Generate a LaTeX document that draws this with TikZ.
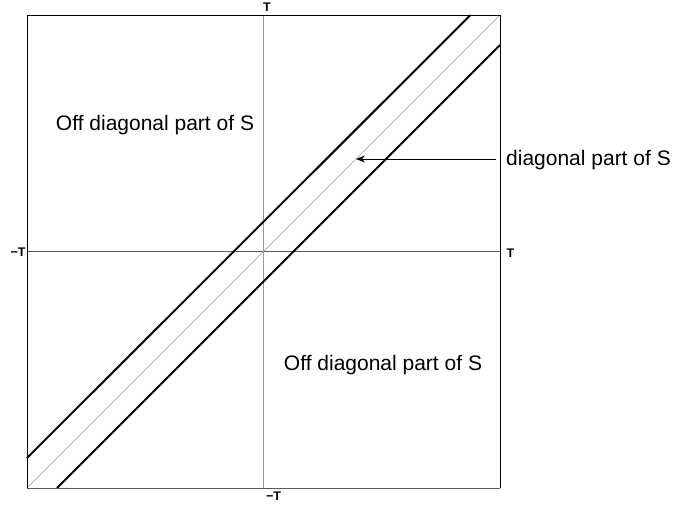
\documentclass[tikz,border=0pt]{standalone}
\usepackage{fontspec}
\setmainfont{Liberation Sans}
\usetikzlibrary{arrows.meta}
\tikzset{
  frame/.style={draw=black, line width=1pt},
  thickdiag/.style={draw=black, line width=2pt},
  thindiag/.style={draw=black!40, line width=0.6pt},
  haxis/.style={draw=black!65, line width=1pt},
  vaxis/.style={draw=black!40, line width=1.2pt},
  bigtxt/.style={inner sep=0pt, font=\fontsize{21}{25}\selectfont},
  ticktxt/.style={inner sep=0pt, font=\fontsize{12.5}{14}\selectfont\bfseries},
  pointer/.style={draw=black, line width=1pt, -{Stealth[length=9pt,width=7pt]}}
}
\begin{document}
\begin{tikzpicture}[x=1pt,y=-1pt]
\useasboundingbox (0,0) rectangle (674,507);
% corners
\coordinate (bl) at (27,488);
\coordinate (tl) at (27,15);
\coordinate (tr) at (500,15);
\coordinate (br) at (500,488);
% axes
\coordinate (axL) at (27,251.5);
\coordinate (axR) at (500,251.5);
\coordinate (axT) at (263.5,15);
\coordinate (axB) at (263.5,488);
\draw[haxis] (axL) -- (axR);
\draw[vaxis] (axT) -- (axB);
% diagonals
\draw[thindiag] (bl) -- (tr);
\coordinate (u1) at (27,458);
\coordinate (u2) at (470.5,15);
\coordinate (l1) at (57,488);
\coordinate (l2) at (500,45);
\draw[thickdiag] (u1) -- (u2);
\draw[thickdiag] (l1) -- (l2);
% frame
\draw[frame] (bl) -- (tl) -- (tr) -- (br);
\draw[haxis] (bl) -- (br);
% tick labels
\node[ticktxt] (tT) at (267,7.5) {T};
\node[ticktxt] (tB) at (273.5,496) {−T};
\node[ticktxt] (tL) at (18,252.5) {−T};
\node[ticktxt] (tR) at (510.5,253) {T};
% region labels
\node[bigtxt] (off1) at (155,125) {Off diagonal part of S};
\node[bigtxt] (off2) at (383,365) {Off diagonal part of S};
\node[bigtxt, anchor=west] (dlab) at (506,160) {diagonal part of S};
% arrow
\coordinate (astart) at (496,159);
\coordinate (atip) at (356,159);
\draw[pointer] (astart) -- (atip);
\end{tikzpicture}
\end{document}
